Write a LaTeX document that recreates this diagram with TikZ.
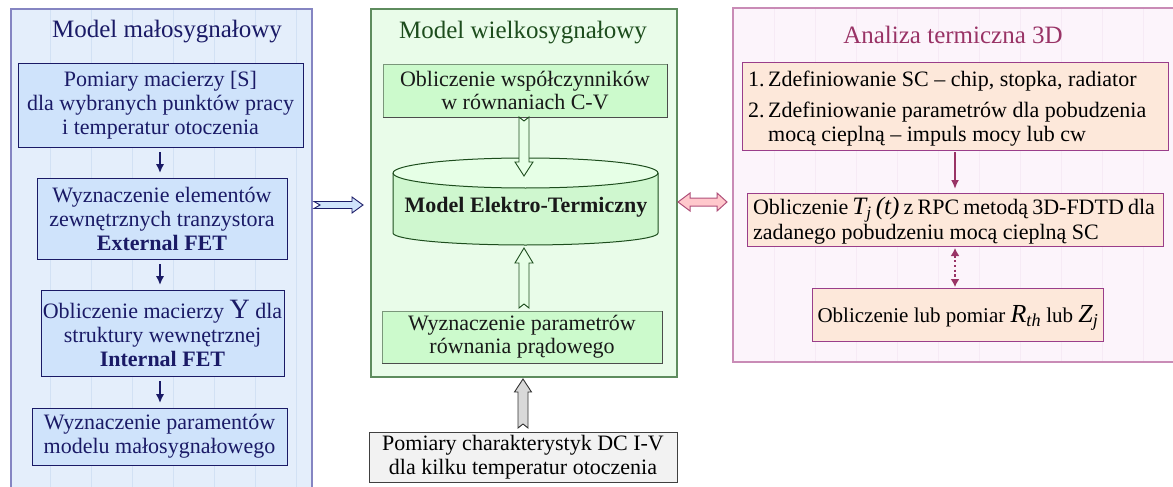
\documentclass[tikz,border=0pt]{standalone}
\usepackage{fontspec}
\setmainfont{Liberation Serif}
\usetikzlibrary{calc,arrows.meta}
\definecolor{navy}{HTML}{1A1A66}
\definecolor{lfill}{HTML}{CFE3FB}
\definecolor{lborder}{HTML}{8585C2}
\definecolor{lbg}{HTML}{E4EEFB}
\definecolor{lgrid}{HTML}{D2E1F4}
\definecolor{cbg}{HTML}{E9FCE9}
\definecolor{cborder}{HTML}{5E8C5E}
\definecolor{ctitle}{HTML}{1D4D1D}
\definecolor{cboxfill}{HTML}{CCFACC}
\definecolor{cylfill}{HTML}{CFF7CF}
\definecolor{garrowfill}{HTML}{E6FFE6}
\definecolor{grayfill}{HTML}{F2F2F2}
\definecolor{grayarrow}{HTML}{D9D9D9}
\definecolor{pinkfill}{HTML}{FFC8CC}
\definecolor{pinkborder}{HTML}{B0507A}
\definecolor{rbg}{HTML}{FCF4FB}
\definecolor{rgrid}{HTML}{F6EAF5}
\definecolor{rborder}{HTML}{C98BB6}
\definecolor{rtitle}{HTML}{993366}
\definecolor{rboxfill}{HTML}{FDE8DA}
\definecolor{rboxborder}{HTML}{9A3D8A}
\definecolor{plum}{HTML}{993366}
% block arrow: style, from, to, shaft half width, head half width, head length, notch depth
\newcommand\blockarrow[7]{%
  \draw[#1] let \p1=(#2), \p2=(#3),
    \n1={veclen(\x2-\x1,\y2-\y1)},
    \n2={(\x2-\x1)/\n1}, \n3={(\y2-\y1)/\n1} in
    ({\x1-(#4)*(\n3)},{\y1+(#4)*(\n2)})
    -- ({\x1+(\n1-(#6))*(\n2)-(#4)*(\n3)},{\y1+(\n1-(#6))*(\n3)+(#4)*(\n2)})
    -- ({\x1+(\n1-(#6))*(\n2)-(#5)*(\n3)},{\y1+(\n1-(#6))*(\n3)+(#5)*(\n2)})
    -- (\p2)
    -- ({\x1+(\n1-(#6))*(\n2)+(#5)*(\n3)},{\y1+(\n1-(#6))*(\n3)-(#5)*(\n2)})
    -- ({\x1+(\n1-(#6))*(\n2)+(#4)*(\n3)},{\y1+(\n1-(#6))*(\n3)-(#4)*(\n2)})
    -- ({\x1+(#4)*(\n3)},{\y1-(#4)*(\n2)})
    -- ({\x1+(#7)*(\n2)},{\y1+(#7)*(\n3)})
    -- cycle;}
\begin{document}
\begin{tikzpicture}[x=1pt,y=-1pt,
  every node/.style={inner sep=0pt, outer sep=0pt},
  body/.style={font=\fontsize{22}{24}\selectfont},
  ttl/.style={font=\fontsize{25}{28}\selectfont},
  frameL/.style={draw=lborder, fill=lbg, line width=1.6pt},
  frameC/.style={draw=cborder, fill=cbg, line width=1.2pt},
  frameR/.style={draw=rborder, fill=rbg, line width=1.2pt},
  lbox/.style={body, draw=navy, fill=lfill, text=navy, align=center, line width=1pt},
  cbox/.style={body, fill=cboxfill, text=black!90, align=center},
  gbox/.style={body, draw=black!75, fill=grayfill, align=center, line width=1pt},
  rbox/.style={draw=rboxborder, fill=rboxfill, line width=1pt},
  rtext/.style={font=\fontsize{22}{25}\selectfont},
  navyarrow/.style={draw=navy, line width=1.8pt, -{Latex[length=9pt,width=8.5pt]}, shorten <=5pt, shorten >=5pt},
  plumarrow/.style={draw=plum, line width=2pt, -{Latex[length=9pt,width=8pt]}},
  dotarrow/.style={draw=plum, line width=2.4pt, dash pattern=on 2.4pt off 2.4pt, {Latex[length=8pt,width=9pt]}-{Latex[length=8pt,width=9pt]}},
  blue block/.style={draw=navy, fill=lfill, line width=0.9pt, line join=miter},
  green block/.style={draw=ctitle, fill=garrowfill, line width=0.9pt, line join=miter},
  gray block/.style={draw=black!80, fill=grayarrow, line width=0.9pt, line join=miter},
  pink block/.style={draw=pinkborder, fill=pinkfill, line width=1pt, line join=miter},
  cylstyle/.style={draw=ctitle, line width=1pt}]
\useasboundingbox (0,0) rectangle (1173,487);
\clip (0,0) rectangle (1173,487);

% ---------- left frame ----------
\node[frameL, minimum width=301, minimum height=486] (lframe) at (161.5,252) {};
\begin{scope}
  \clip (lframe.south west) rectangle (lframe.north east);
  \draw[lgrid, line width=0.8pt, shift={(9,7)}] (0,0) grid[step=41] (320,500);
\end{scope}
\draw[lborder, line width=1.6pt] (lframe.south west) rectangle (lframe.north east);
\node[ttl, text=navy] (ltitle) at (167,32) {Model małosygnałowy};
\node[lbox, minimum width=285, minimum height=83] (L1) at (160.5,105.5)
  {Pomiary macierzy [S]\\dla wybranych punktów pracy\\i temperatur otoczenia};
\node[lbox, minimum width=250, minimum height=81] (L2) at (162,218.5)
  {Wyznaczenie elementów\\zewnętrznych tranzystora\\\textbf{External FET}};
\node[lbox, minimum width=243, minimum height=86] (L3) at (162.5,333)
  {Obliczenie macierzy {\fontsize{28}{24}\selectfont Y} dla\\struktury wewnętrznej\\\textbf{Internal FET}};
\node[lbox, minimum width=255, minimum height=57] (L4) at (159.5,436.5)
  {Wyznaczenie paramentów\\modelu małosygnałowego};
\draw[navyarrow] (L1.south -| 160,0) -- (L2.north -| 160,0);
\draw[navyarrow] (L2.south -| 160,0) -- (L3.north -| 160,0);
\draw[navyarrow] (L3.south -| 160,0) -- (L4.north -| 160,0);

% ---------- centre frame ----------
\node[frameC, minimum width=306, minimum height=368] (C0) at (524,193) {};
\node[ttl, text=ctitle] (ctitle) at (523,33) {Model wielkosygnałowy};
\node[cbox, minimum width=284, minimum height=53, font=\fontsize{22}{22.5}\selectfont] (C1) at (525,90.5)
  {Obliczenie współczynników\\w równaniach C-V};
\draw[black!70, line width=1pt] (C1.north east) -- (C1.south east) -- (C1.south west);
\draw[cboxfill!60!black, line width=0.4pt] (C1.south west) -- (C1.north west) -- (C1.north east);
\node[minimum width=265, minimum height=87] (cyl) at (525.5,201.5) {};
\fill[cylfill] ($(cyl.north west)+(0,15)$) -- ($(cyl.south west)+(0,-12)$)
  arc[start angle=180, end angle=360, x radius=132.5pt, y radius=12pt]
  -- ($(cyl.north east)+(0,15)$)
  arc[start angle=0, end angle=180, x radius=132.5pt, y radius=15pt] -- cycle;
\fill[garrowfill] ($(cyl.north)+(0,15)$) ellipse[x radius=132.5pt, y radius=15pt];
\draw[cylstyle] ($(cyl.north west)+(0,15)$) -- ($(cyl.south west)+(0,-12)$)
  arc[start angle=180, end angle=360, x radius=132.5pt, y radius=12pt]
  -- ($(cyl.north east)+(0,15)$)
  arc[start angle=0, end angle=180, x radius=132.5pt, y radius=15pt] -- cycle;
\draw[cylstyle] ($(cyl.north west)+(0,15)$)
  arc[start angle=180, end angle=360, x radius=132.5pt, y radius=15pt];
\node[font=\fontsize{22}{24}\selectfont\bfseries, text=black!90] (cyltext) at (526,207) {Model Elektro-Termiczny};
\node[cbox, minimum width=280, minimum height=52, font=\fontsize{22}{23}\selectfont] (C2) at (522,337)
  {Wyznaczenie parametrów\\równania prądowego};
\draw[black!70, line width=1pt] (C2.north east) -- (C2.south east) -- (C2.south west);
\draw[cboxfill!60!black, line width=0.4pt] (C2.south west) -- (C2.north west) -- (C2.north east);
\blockarrow{green block}{$(C1.south)+(-1,0)$}{$(cyl.north)+(-1.5,18)$}{5}{9}{14}{4}
\blockarrow{green block}{$(C2.north)+(2,-3)$}{$(cyl.south)+(-1.5,3)$}{5}{9}{15}{4}

% ---------- grey box ----------
\node[gbox, minimum width=308, minimum height=50] (G) at (523,457)
  {Pomiary charakterystyk DC I-V\\dla kilku temperatur otoczenia};
\blockarrow{gray block}{$(G.north)+(0,-4)$}{$(C0.south)+(-1,2)$}{5}{8.5}{13}{4}

% ---------- right frame ----------
\node[frameR, minimum width=443, minimum height=354] (R0) at (954.5,185) {};
\begin{scope}
  \clip (R0.south west) rectangle (R0.north east);
  \draw[rgrid, line width=0.6pt, shift={(733,8)}] (0,0) grid[step=41] (460,360);
\end{scope}
\draw[rborder, line width=1.2pt] (R0.south west) rectangle (R0.north east);
\node[ttl, text=rtitle] (rtitle) at (953,35) {Analiza termiczna 3D};
\node[rbox, minimum width=426, minimum height=87] (R1) at (955,106.5) {};
\node[rtext, anchor=west, align=left] (R1text) at (748,109)
  {\begin{tabular}{@{}l@{\,}l@{}}1. & Zdefiniowanie SC – chip, stopka, radiator\\[6pt]
   2. & Zdefiniowanie parametrów dla pobudzenia\\[-1pt] & mocą cieplną – impuls mocy lub cw\end{tabular}};
\node[rbox, minimum width=416, minimum height=53] (R2) at (955,219.5) {};
\node[rtext, anchor=west, align=left] (R2text) at (753,221)
  {\makebox[402pt][s]{Obliczenie {\fontsize{25}{24}\selectfont\itshape T\textsubscript{j}\,(t)} z RPC metodą 3D-FDTD dla}\\zadanego pobudzeniu mocą cieplną SC};
\node[rbox, minimum width=291, minimum height=53] (R3) at (957.5,314.5) {};
\node[font=\fontsize{21}{24}\selectfont] (R3text) at (958,318)
  {Obliczenie lub pomiar {\fontsize{26}{24}\selectfont\itshape R\textsubscript{th}} lub {\fontsize{26}{24}\selectfont\itshape Z\textsubscript{j}}};
\draw[plumarrow] ($(R1.south -| 955,0)+(0,2)$) -- ($(R2.north -| 955,0)+(0,-4)$);
\draw[dotarrow] ($(R2.south -| 955,0)+(0,2)$) -- ($(R3.north -| 955,0)+(0,-1)$);

% ---------- connectors between frames ----------
\blockarrow{blue block}{$(lframe.east |- cyl.center)+(2,3.5)$}{$(C0.west |- cyl.center)+(-8,3.5)$}{3.5}{8}{11}{6}
\draw[pink block] let \p1=($(C0.east |- cyl.center)+(1,0.5)$), \p2=($(R0.west |- cyl.center)+(-6,0.5)$) in
  (\p1) -- (\x1+12pt,\y1+9pt) -- (\x1+12pt,\y1+4pt) -- (\x2-10pt,\y1+4pt) -- (\x2-10pt,\y1+9pt)
  -- (\p2) -- (\x2-10pt,\y1-9pt) -- (\x2-10pt,\y1-4pt) -- (\x1+12pt,\y1-4pt) -- (\x1+12pt,\y1-9pt) -- cycle;
\end{tikzpicture}
\end{document}
